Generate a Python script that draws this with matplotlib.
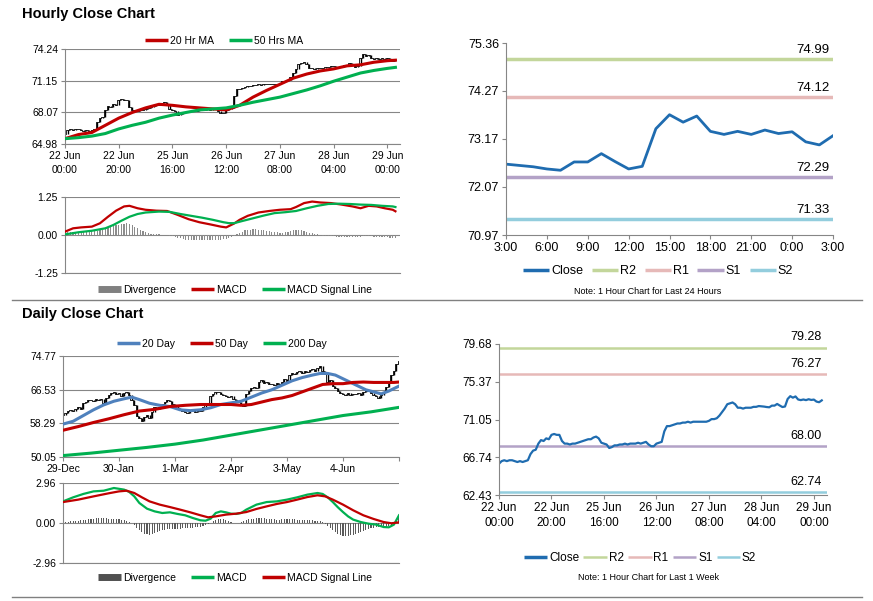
import matplotlib
matplotlib.use("Agg")
import matplotlib.pyplot as plt
import numpy as np
from matplotlib.lines import Line2D

plt.rcParams['font.family'] = ['Liberation Sans', 'DejaVu Sans']

# ---- hourly data (22 Jun 00:00 .. 29 Jun 03:00, one value per trading hour)
hourly_close = [
    66.0, 66.3, 66.4, 66.3, 66.4, 66.4, 66.3, 66.2, 66.3, 66.2,
    66.3, 66.4, 67.1, 67.5, 67.6, 68.3, 68.7, 68.6, 68.9, 68.8,
    69.3, 69.4, 69.3, 69.3, 68.6, 68.3, 68.3, 68.2, 68.3, 68.3,
    68.4, 68.5, 68.6, 68.7, 68.8, 68.8, 69.0, 69.1, 68.9, 68.4,
    68.3, 68.2, 67.8, 67.9, 68.1, 68.1, 68.2, 68.2, 68.3, 68.2,
    68.3, 68.3, 68.3, 68.4, 68.3, 68.4, 68.5, 68.2, 68.0, 68.0,
    68.3, 68.4, 68.5, 69.7, 70.3, 70.3, 70.4, 70.5, 70.6, 70.6,
    70.7, 70.7, 70.8, 70.7, 70.8, 70.8, 70.8, 70.8, 70.8, 70.8,
    70.9, 71.1, 71.1, 71.2, 71.5, 71.9, 72.3, 72.8, 72.9, 73.0,
    72.8, 72.4, 72.4, 72.3, 72.4, 72.4, 72.4, 72.5, 72.5,
    72.59, 72.56, 72.53, 72.48, 72.45, 72.64, 72.64, 72.83, 72.65, 72.48,
    72.54, 73.40, 73.72, 73.55, 73.69, 73.34, 73.27, 73.34, 73.27, 73.37,
    73.29, 73.33, 73.10, 73.03, 73.24]
hourly_ticks = [0, 20, 40, 60, 80, 100, 120]
hourly_labels = ["22 Jun\n00:00", "22 Jun\n20:00", "25 Jun\n16:00", "26 Jun\n12:00",
                 "27 Jun\n08:00", "28 Jun\n04:00", "29 Jun\n00:00"]

ma_x = [0, 5, 10, 15, 20, 25, 30, 35, 40, 45, 50, 55, 60, 65, 70, 75, 80, 85, 90, 95,
        100, 105, 110, 115, 120, 123]
ma20 = [65.5, 65.9, 66.1, 66.8, 67.5, 68.05, 68.5, 68.85, 68.75, 68.6, 68.5, 68.4, 68.3,
        68.75, 69.55, 70.2, 70.8, 71.4, 71.8, 72.1, 72.3, 72.6, 72.7, 72.95, 73.1, 73.15]
ma50 = [65.5, 65.6, 65.75, 66.0, 66.45, 66.8, 67.1, 67.5, 67.8, 68.05, 68.3, 68.4, 68.5,
        68.75, 69.05, 69.3, 69.55, 69.9, 70.25, 70.65, 71.1, 71.5, 71.9, 72.15, 72.35, 72.45]

hmacd_x = [0, 3, 6, 10, 13, 16, 19, 22, 24, 27, 30, 34, 38, 42, 46, 50, 54, 58, 60, 63,
           65, 68, 72, 76, 80, 84, 86, 89, 92, 95, 99, 103, 107, 110, 113, 116, 119, 122, 123]
hmacd = [0.11, 0.22, 0.25, 0.275, 0.385, 0.6, 0.8, 0.94, 0.96, 0.88, 0.83, 0.8, 0.79, 0.66,
         0.52, 0.42, 0.35, 0.275, 0.25, 0.38, 0.5, 0.63, 0.74, 0.79, 0.83, 0.85, 0.92, 1.05,
         1.1, 1.07, 1.05, 1.0, 0.94, 0.88, 0.96, 0.94, 0.88, 0.83, 0.78]
hsig_x = [0, 5, 10, 15, 18, 21, 24, 27, 30, 35, 39, 43, 47, 51, 55, 59, 61, 63, 66, 70,
          74, 78, 82, 86, 90, 94, 98, 102, 106, 110, 114, 118, 122, 123]
hsig = [0.02, 0.09, 0.14, 0.22, 0.33, 0.47, 0.6, 0.69, 0.74, 0.77, 0.76, 0.69, 0.63, 0.57,
        0.5, 0.42, 0.39, 0.39, 0.46, 0.55, 0.64, 0.72, 0.75, 0.79, 0.88, 0.96, 1.02, 1.03,
        1.02, 1.0, 0.99, 0.96, 0.94, 0.92]
hdiv = [
    0.08, 0.09, 0.10, 0.10, 0.10, 0.10, 0.10, 0.10, 0.11, 0.11, 0.12,
    0.13, 0.14, 0.16, 0.18, 0.21, 0.24, 0.27, 0.30, 0.32, 0.34,
    0.36, 0.37, 0.38, 0.36, 0.32, 0.27, 0.22, 0.17, 0.13, 0.09,
    0.06, 0.04, 0.03, 0.03, 0.02, 0.01, 0.00, -0.01, -0.02, -0.04,
    -0.06, -0.09, -0.11, -0.13, -0.15, -0.16, -0.17, -0.18, -0.18, -0.18,
    -0.18, -0.18, -0.17, -0.17, -0.17, -0.16, -0.15, -0.15, -0.14, -0.13,
    -0.10, -0.06, -0.02, 0.03, 0.07, 0.11, 0.15, 0.17, 0.18, 0.19,
    0.19, 0.18, 0.17, 0.15, 0.13, 0.12, 0.11, 0.10, 0.09, 0.08,
    0.08, 0.09, 0.11, 0.14, 0.16, 0.18, 0.18, 0.16, 0.14, 0.11,
    0.08, 0.05, 0.03, 0.02, 0.00, -0.02, -0.03, -0.03, -0.04, -0.04,
    -0.05, -0.05, -0.06, -0.06, -0.07, -0.07, -0.08, -0.07, -0.06, -0.05,
    -0.04, -0.03, -0.03, -0.04, -0.05, -0.06, -0.06, -0.07, -0.07, -0.08,
    -0.09, -0.10, -0.10]

# ---- daily data
daily_close = [
    60.4, 60.8, 61.2, 61.5, 61.3, 61.9, 62.2, 61.8, 63.2, 63.5,
    63.9, 64.0, 63.7, 64.2, 64.0, 64.3, 63.3, 64.5, 65.2, 65.7,
    66.0, 65.5, 65.8, 65.1, 65.6, 65.9, 65.3, 63.9, 62.7, 60.2,
    59.5, 58.9, 59.8, 60.3, 59.6, 61.0, 62.2, 61.8, 62.4, 62.9,
    63.5, 63.9, 63.7, 63.1, 62.5, 62.0, 61.8, 61.4, 61.0, 60.8,
    61.2, 61.5, 61.0, 61.6, 61.4, 62.2, 62.7, 63.1, 65.0, 65.5,
    65.9, 66.0, 65.5, 65.2, 65.0, 64.7, 64.9, 64.3, 63.9, 63.5,
    63.1, 62.5, 65.5, 66.2, 67.0, 67.3, 67.0, 68.3, 68.8, 68.2,
    68.4, 67.9, 68.0, 67.6, 68.1, 67.8, 68.4, 69.1, 68.7, 70.0,
    70.5, 70.3, 70.8, 71.0, 70.6, 71.2, 70.9, 71.3, 71.5, 71.2,
    71.8, 72.4, 71.0, 70.3, 68.4, 68.9, 67.4, 67.0, 66.2, 65.7,
    65.4, 65.2, 65.6, 65.3, 65.5, 65.4, 65.8, 65.3, 66.0, 66.4,
    66.2, 65.8, 65.2, 64.9, 64.5, 65.3, 66.0, 67.1, 68.2, 70.1,
    71.1, 72.8, 73.5]
daily_ticks = [0, 22, 44, 66, 88, 110, 132]
daily_labels = ["29-Dec", "30-Jan", "1-Mar", "2-Apr", "3-May", "4-Jun", ""]

d20_x = [0, 4, 8, 12, 16, 20, 24, 27, 30, 34, 38, 42, 46, 50, 54, 58, 62, 66, 70, 74,
         78, 82, 86, 90, 94, 98, 101, 104, 107, 110, 113, 116, 119, 122, 125, 128, 130, 132]
d20 = [58.1, 58.8, 60.2, 61.6, 62.8, 63.7, 64.3, 64.7, 64.1, 63.2, 62.7, 62.4, 61.6, 61.4,
       61.6, 62.1, 62.9, 63.3, 63.7, 64.7, 65.7, 66.5, 67.6, 68.7, 69.5, 70.1, 70.5, 70.5,
       70.1, 69.2, 68.3, 67.4, 66.5, 66.0, 65.5, 66.2, 66.8, 67.4]
d50_x = [0, 6, 12, 18, 24, 30, 36, 42, 48, 54, 60, 66, 70, 74, 78, 82, 86, 90, 94, 98,
         102, 106, 110, 114, 118, 122, 126, 130, 132]
d50 = [56.6, 57.5, 58.5, 59.4, 60.4, 61.3, 61.7, 62.4, 62.7, 62.9, 62.9, 62.9, 62.7, 62.9,
       63.5, 64.1, 64.5, 65.1, 66.0, 66.9, 67.8, 68.0, 68.0, 68.3, 68.4, 68.3, 68.3, 68.3, 68.4]
d200_x = [0, 11, 22, 33, 44, 55, 66, 77, 88, 99, 110, 121, 132]
d200 = [50.4, 51.0, 51.7, 52.4, 53.2, 54.2, 55.4, 56.6, 57.8, 59.0, 60.2, 61.1, 62.2]

dmacd_x = [0, 4, 8, 12, 16, 20, 24, 26, 28, 30, 33, 36, 39, 42, 45, 48, 51, 54, 56, 58,
           60, 62, 64, 66, 68, 70, 72, 76, 80, 84, 88, 92, 96, 100, 102, 104, 106, 108, 110,
           112, 114, 117, 120, 123, 126, 128, 130, 132]
dmacd = [1.6, 1.9, 2.15, 2.34, 2.39, 2.59, 2.47, 2.3, 1.97, 1.48, 1.06, 0.86, 0.74, 0.79,
         0.67, 0.57, 0.37, 0.2, 0.17, 0.32, 0.74, 0.86, 0.79, 0.69, 0.67, 0.74, 0.99, 1.36,
         1.55, 1.6, 1.73, 1.9, 2.1, 2.22, 2.15, 1.9, 1.55, 1.16, 0.81, 0.49, 0.25, 0.07,
         -0.05, -0.12, -0.3, -0.32, -0.12, 0.57]
dsig_x = [0, 6, 12, 18, 22, 25, 28, 31, 34, 38, 42, 46, 50, 54, 57, 60, 64, 68, 72, 76,
          80, 84, 88, 92, 96, 100, 103, 106, 110, 114, 118, 122, 126, 129, 132]
dsig = [1.55, 1.73, 1.97, 2.2, 2.34, 2.39, 2.22, 1.9, 1.6, 1.36, 1.18, 0.99, 0.79, 0.57,
        0.42, 0.49, 0.62, 0.69, 0.81, 1.04, 1.23, 1.41, 1.55, 1.73, 1.92, 2.05, 1.97, 1.73,
        1.36, 0.94, 0.57, 0.3, 0.07, -0.02, 0.05]
ddiv = [
    0.05, 0.08, 0.10, 0.12, 0.14, 0.15, 0.17, 0.19, 0.21, 0.24, 0.27,
    0.30, 0.33, 0.35, 0.37, 0.37, 0.36, 0.35, 0.33, 0.31, 0.30, 0.28,
    0.26, 0.24, 0.22, 0.18, 0.10, 0.00, -0.15, -0.35, -0.55, -0.68, -0.78,
    -0.84, -0.86, -0.82, -0.75, -0.66, -0.60, -0.55, -0.50, -0.47, -0.45, -0.44,
    -0.42, -0.42, -0.41, -0.40, -0.40, -0.38, -0.36, -0.34, -0.32, -0.30, -0.28,
    -0.24, -0.18, -0.10, 0.00, 0.12, 0.22, 0.28, 0.30, 0.26, 0.20, 0.12,
    0.06, 0.02, 0.00, 0.02, 0.06, 0.12, 0.20, 0.26, 0.30, 0.33, 0.35,
    0.36, 0.36, 0.34, 0.32, 0.30, 0.28, 0.26, 0.25, 0.25, 0.26, 0.27,
    0.28, 0.28, 0.27, 0.26, 0.25, 0.25, 0.24, 0.24, 0.23, 0.22, 0.20,
    0.18, 0.16, 0.12, 0.06, -0.05, -0.20, -0.38, -0.55, -0.70, -0.82, -0.90,
    -0.95, -0.96, -0.95, -0.92, -0.88, -0.82, -0.75, -0.68, -0.60, -0.52, -0.45,
    -0.40, -0.36, -0.33, -0.32, -0.33, -0.35, -0.32, -0.25, -0.12, 0.05, 0.25, 0.45]

# ---- pivot levels
day_labels = ["3:00", "6:00", "9:00", "12:00", "15:00", "18:00", "21:00", "0:00", "3:00"]
day_levels = {"R2": 74.99, "R1": 74.12, "S1": 72.29, "S2": 71.33}
day_yticks = [70.97, 72.07, 73.17, 74.27, 75.36]
week_levels = {"R2": 79.28, "R1": 76.27, "S1": 68.00, "S2": 62.74}
week_yticks = [62.43, 66.74, 71.05, 75.37, 79.68]

GRAY = '#868686'
RED = '#C00000'
GREEN = '#00B050'
BLUE20 = '#4F81BD'
CLOSE = '#1F6CB0'
LEVEL_COLORS = {"R2": '#C3D69B', "R1": '#E6B9B8', "S1": '#B3A2C7', "S2": '#93CDDD'}

W, H = 873, 601
fig = plt.figure(figsize=(W / 100, H / 100), dpi=100)


def panel(x0, y0, x1, y1):
    return fig.add_axes([x0 / W, 1 - y1 / H, (x1 - x0) / W, (y1 - y0) / H])


def style(ax, yticks, size, grid=True):
    ax.set_ylim(yticks[0], yticks[-1])
    ax.set_yticks(yticks)
    ax.set_yticklabels([f"{v:.2f}" for v in yticks])
    if grid:
        ax.grid(axis='y', color=GRAY, lw=0.8)
    ax.set_axisbelow(True)
    for s in ['top', 'right']:
        ax.spines[s].set_visible(False)
    for s in ['left', 'bottom']:
        ax.spines[s].set_color(GRAY)
        ax.spines[s].set_linewidth(0.8)
    ax.tick_params(labelsize=size, length=3, width=0.8, color=GRAY, pad=2)


def price_bars(ax, closes):
    c = np.array(closes)
    x = np.arange(len(c))
    lo = np.minimum(c[:-1], c[1:])
    hi = np.maximum(c[:-1], c[1:])
    ax.vlines(x[1:], lo, hi, color='black', lw=1.0, zorder=2)
    ax.plot(x, c, color='black', lw=0.6, drawstyle='steps-mid', zorder=2)


def legend_at(handles, labels, cx, cy, size, hl=2.2, sp=1.5):
    fig.legend(handles, labels, loc='center', bbox_to_anchor=(cx / W, 1 - cy / H),
               ncol=len(handles), frameon=False, fontsize=size, handlelength=hl,
               handletextpad=0.15, columnspacing=sp, borderaxespad=0, borderpad=0)


def line(color, lw=2.5):
    return Line2D([], [], color=color, lw=lw, solid_capstyle='butt')


# ---- Hourly close chart
ax1 = panel(65, 49, 400, 144)
price_bars(ax1, hourly_close)
ax1.plot(ma_x, ma20, color=RED, lw=2.2, zorder=3)
ax1.plot(ma_x, ma50, color=GREEN, lw=2.2, zorder=3)
style(ax1, [64.98, 68.07, 71.15, 74.24], 7.5)
ax1.set_xlim(0, 124.7)
ax1.set_xticks(hourly_ticks)
ax1.set_xticklabels(hourly_labels, linespacing=1.5)
legend_at([line(RED), line(GREEN)], ["20 Hr MA", "50 Hrs MA"], 224, 41, 7.5)

ax2 = panel(65, 197, 400, 273)
ax2.bar(np.arange(len(hdiv)), hdiv, width=0.45, color='#8C8C8C', zorder=2)
ax2.plot(hmacd_x, hmacd, color=RED, lw=1.6, zorder=3)
ax2.plot(hsig_x, hsig, color=GREEN, lw=1.6, zorder=3)
style(ax2, [-1.25, 0.0, 1.25], 7.5)
ax2.set_xlim(0, 124.7)
ax2.set_xticks([])
legend_at([line('#808080', 5), line(RED), line(GREEN)],
          ["Divergence", "MACD", "MACD Signal Line"], 235, 290, 7.5)

# ---- Daily close chart
ax4 = panel(63, 356, 399, 457)
price_bars(ax4, daily_close)
ax4.plot(d20_x, d20, color=BLUE20, lw=2.2, zorder=3)
ax4.plot(d50_x, d50, color=RED, lw=2.2, zorder=3)
ax4.plot(d200_x, d200, color=GREEN, lw=2.2, zorder=3)
style(ax4, [50.05, 58.29, 66.53, 74.77], 7.5)
ax4.set_xlim(0, 132)
ax4.set_xticks(daily_ticks)
ax4.set_xticklabels(daily_labels)
legend_at([line(BLUE20), line(RED), line(GREEN)], ["20 Day", "50 Day", "200 Day"],
          222, 344, 7.5)

ax5 = panel(63, 483, 399, 563)
ax5.bar(np.arange(len(ddiv)), ddiv, width=0.45, color='#5A5A5A', zorder=2)
ax5.plot(dmacd_x, dmacd, color=GREEN, lw=1.6, zorder=3)
ax5.plot(dsig_x, dsig, color=RED, lw=1.6, zorder=3)
style(ax5, [-2.96, 0.0, 2.96], 7.5)
ax5.set_xlim(0, 132)
ax5.set_xticks([])
legend_at([line('#505050', 5), line(GREEN), line(RED)],
          ["Divergence", "MACD", "MACD Signal Line"], 235, 578, 7.5)

# ---- Last 24 hours with pivot levels
ax3 = panel(506, 43, 833, 235)
for name, v in day_levels.items():
    ax3.axhline(v, color=LEVEL_COLORS[name], lw=2.5)
    ax3.annotate(f"{v:.2f}", xy=(0.99, v), xycoords=('axes fraction', 'data'),
                 xytext=(0, 2), textcoords='offset points', ha='right', va='bottom',
                 fontsize=9.5)
last_day = hourly_close[-25:]
ax3.plot(np.arange(len(last_day)), last_day, color=CLOSE, lw=2.0)
style(ax3, day_yticks, 9, grid=False)
ax3.set_xlim(0, 24)
ax3.set_xticks(range(0, 25, 3))
ax3.set_xticklabels(day_labels)
legend_at([line(CLOSE)] + [line(LEVEL_COLORS[k]) for k in day_levels],
          ["Close"] + list(day_levels), 658, 271, 9, hl=2.1, sp=0.7)
fig.text(648 / W, 1 - 292 / H, "Note: 1 Hour Chart for Last 24 Hours", ha='center',
         va='center', fontsize=6.5)

# ---- Last week with pivot levels
ax6 = panel(499, 344, 827, 495)
for name, v in week_levels.items():
    ax6.axhline(v, color=LEVEL_COLORS[name], lw=1.8)
    ax6.annotate(f"{v:.2f}", xy=(0.985, v), xycoords=('axes fraction', 'data'),
                 xytext=(0, 3), textcoords='offset points', ha='right', va='bottom',
                 fontsize=9)
ax6.plot(np.arange(len(hourly_close)), hourly_close, color=CLOSE, lw=1.6)
style(ax6, week_yticks, 8.5, grid=False)
ax6.set_xlim(0, 125)
ax6.set_xticks(hourly_ticks)
ax6.set_xticklabels(hourly_labels, linespacing=1.3)
legend_at([line(CLOSE)] + [line(LEVEL_COLORS[k], 1.8) for k in week_levels],
          ["Close"] + list(week_levels), 640, 558, 8.5, hl=2.0, sp=0.35)
fig.text(648 / W, 1 - 578 / H, "Note: 1 Hour Chart for Last 1 Week", ha='center',
         va='center', fontsize=6.5)

# ---- titles and separators
fig.text(22 / W, 1 - 18 / H, "Hourly Close Chart", fontsize=10.5, fontweight='bold',
         va='baseline')
fig.text(22 / W, 1 - 318 / H, "Daily Close Chart", fontsize=10.5, fontweight='bold',
         va='baseline')
for yy in [300, 597]:
    fig.add_artist(Line2D([12 / W, 862 / W], [1 - yy / H, 1 - yy / H], color='#808080',
                          lw=1.0))

fig.savefig("out.png", dpi=100)
